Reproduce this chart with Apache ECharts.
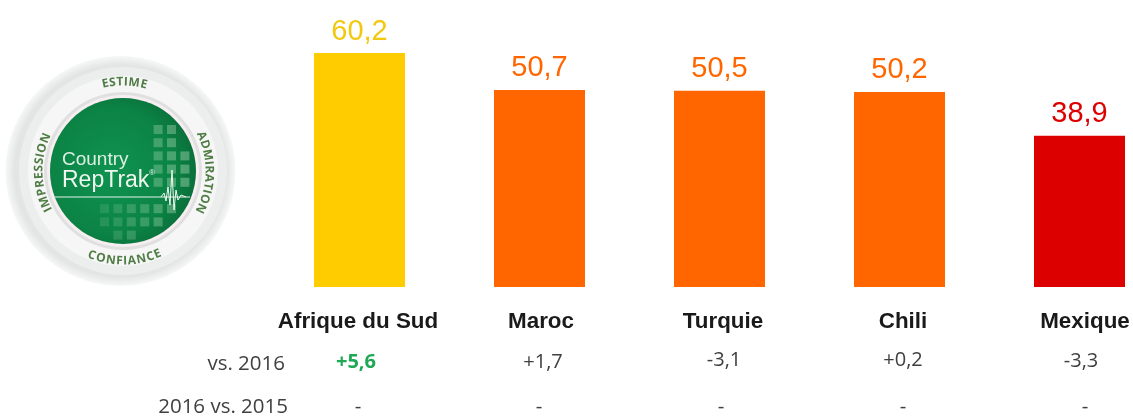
<!DOCTYPE html>
<html><head><meta charset="utf-8">
<style>html,body{margin:0;padding:0;background:#fff}#c{width:1133px;height:417px}</style>
<script src="https://cdn.jsdelivr.net/npm/echarts@6/dist/echarts.min.js"></script>
</head><body><div id="c"></div>
<script>
const categories = ['Afrique du Sud','Maroc','Turquie','Chili','Mexique'];
const scores = [60.2,50.7,50.5,50.2,38.9];
const barColors = ['#FFCC00','#FF6600','#FF6600','#FF6600','#DD0000'];
const vs2016 = ['+5,6','+1,7','-3,1','+0,2','-3,3'];
const vs2015 = ['-','-','-','-','-'];
const rowTitles = ['vs. 2016','2016 vs. 2015'];

// layout
const catShift = [-1.5,1.5,3.5,3.5,5.5];
const row1X = [356,543,724,903,1081], row1Y = [362,362,360,360,361];
const row2X = [358,539,721,903,1085];
const LC = {x:120.5,y:171};
const GC = {x:123,y:171};
const g = [];
const fr = v => v.toFixed(1).replace('.',',');

// logo
const RG = echarts.graphic.RadialGradient;
function circle(r,fill,c){c=c||LC;g.push({type:'circle',silent:true,shape:{cx:c.x,cy:c.y,r},style:{fill}});}
circle(115,new RG(.5,.5,.5,[{offset:0,color:'#f4f4f4'},{offset:.92,color:'#e3e5e5'},{offset:1,color:'#f6f7f7'}]));
circle(104,'#eceeee',GC);
circle(95,'#f6f6f6',GC);
circle(79,'#dfe0df',GC);
circle(76,'#f6eef0',GC);
circle(73,new RG(.42,.5,.62,[{offset:0,color:'#0f9350'},{offset:.7,color:'#0b8344'},{offset:1,color:'#0a6a38'}]),GC);
for(let i=0;i<11;i++)for(let j=0;j<10;j++){
  const x=100+i*13.4, y=125+j*13.2;
  const dx=x+4-GC.x, dy=y+4-GC.y;
  if(Math.hypot(dx,dy)>66) continue;
  if(y<200&&x<147) continue;
  if(y>185&&y<200) continue;
  const a=0.12+0.3*Math.max(0,(dx+30)/90);
  g.push({type:'rect',silent:true,shape:{x,y,width:9,height:9},style:{fill:'rgba(175,220,185,'+a.toFixed(2)+')'}});
}
g.push({type:'line',silent:true,shape:{x1:55,y1:197,x2:190,y2:197},style:{stroke:'#e6f3ea',lineWidth:1}});
g.push({type:'polyline',silent:true,shape:{points:[[161,197],[164,193],[166,201],[168,187],[170,205],[172,170],[174,210],[176,190],[178,200],[181,195],[186,197]]},style:{stroke:'#f2f8f3',lineWidth:1,fill:null}});
g.push({type:'text',silent:true,style:{x:62,y:160,text:'Country',font:'19px "Liberation Sans"',fill:'#dcefe2',verticalAlign:'middle'}});
g.push({type:'text',silent:true,style:{x:62,y:181,text:'RepTrak',font:'23px "Liberation Sans"',fill:'#eef7f0',verticalAlign:'middle'}});
g.push({type:'text',silent:true,style:{x:149,y:173,text:'®',font:'8px "Liberation Sans"',fill:'#eef7f0',verticalAlign:'middle'}});

const ringFont='bold 12px "Open Sans"';
const mctx=document.createElement('canvas').getContext('2d');
mctx.font=ringFont;
function arcText(text,r,midDeg,span,inward){
  const chars=[...text];
  const w=chars.map(c=>mctx.measureText(c).width);
  const tot=w.reduce((a,b)=>a+b,0);
  const k=span/tot;
  let pos=-span/2;
  chars.forEach((ch,i)=>{
    const s=pos+w[i]*k/2; pos+=w[i]*k;
    const off=s/r*180/Math.PI;
    const deg=inward?midDeg+off:midDeg-off;
    const t=deg*Math.PI/180;
    const x=GC.x+r*Math.sin(t), y=GC.y-r*Math.cos(t);
    const rot=inward?-t:-(t-Math.PI);
    g.push({type:'text',silent:true,x,y,rotation:rot,style:{x:0,y:0,text:ch,font:ringFont,fill:'#4f7d45',align:'center',verticalAlign:'middle'}});
  });
}
arcText('ESTIME',89,1,46,true);
arcText('ADMIRATION',86,91,84,true);
arcText('CONFIANCE',90,179,75,false);
arcText('IMPRESSION',84,-91,81,true);

// table rows
const rowFont='20.5px "Open Sans"';
g.push({type:'text',silent:true,style:{x:285,y:364,text:rowTitles[0],font:rowFont,fill:'#404040',align:'right',verticalAlign:'middle'}});
g.push({type:'text',silent:true,style:{x:288,y:407,text:rowTitles[1],font:rowFont,fill:'#404040',align:'right',verticalAlign:'middle'}});
vs2016.forEach((t,i)=>{
  const up=i===0;
  g.push({type:'text',silent:true,style:{x:row1X[i],y:row1Y[i],text:t,font:(up?'bold ':'')+'20px "Open Sans"',fill:up?'#1FA856':'#404040',align:'center',verticalAlign:'middle'}});
});
vs2015.forEach((t,i)=>{
  g.push({type:'text',silent:true,style:{x:row2X[i],y:407,text:t,font:rowFont,fill:'#404040',align:'center',verticalAlign:'middle'}});
});

const rich={};
catShift.forEach((s,i)=>{rich['c'+i]={fontFamily:'Liberation Sans',fontWeight:'bold',fontSize:22.4,color:'#1a1a1a',padding:s>=0?[0,0,0,2*s]:[0,-2*s,0,0]};});

const chart=echarts.init(document.getElementById('c'),null,{renderer:'canvas'});
chart.setOption({
  animation:false,backgroundColor:'#fff',
  grid:{left:269.5,top:15,width:900,height:272,containLabel:false,outerBoundsMode:'none'},
  xAxis:{type:'category',data:categories,axisLine:{show:false},axisTick:{show:false},
    axisLabel:{interval:0,margin:24,hideOverlap:false,formatter:(v,i)=>'{c'+i+'|'+v+'}',rich}},
  yAxis:{type:'value',min:0,max:70,show:false,splitLine:{show:false}},
  series:[{type:'bar',barWidth:91,clip:false,
    data:scores.map((v,i)=>({value:v,itemStyle:{color:barColors[i]},label:{color:barColors[i]==='#FFCC00'?'#F2C811':barColors[i]}})),
    label:{show:true,position:'top',distance:7,fontFamily:'Liberation Sans',fontSize:29,formatter:p=>fr(p.value)}}],
  graphic:{elements:g}
});
</script></body></html>
